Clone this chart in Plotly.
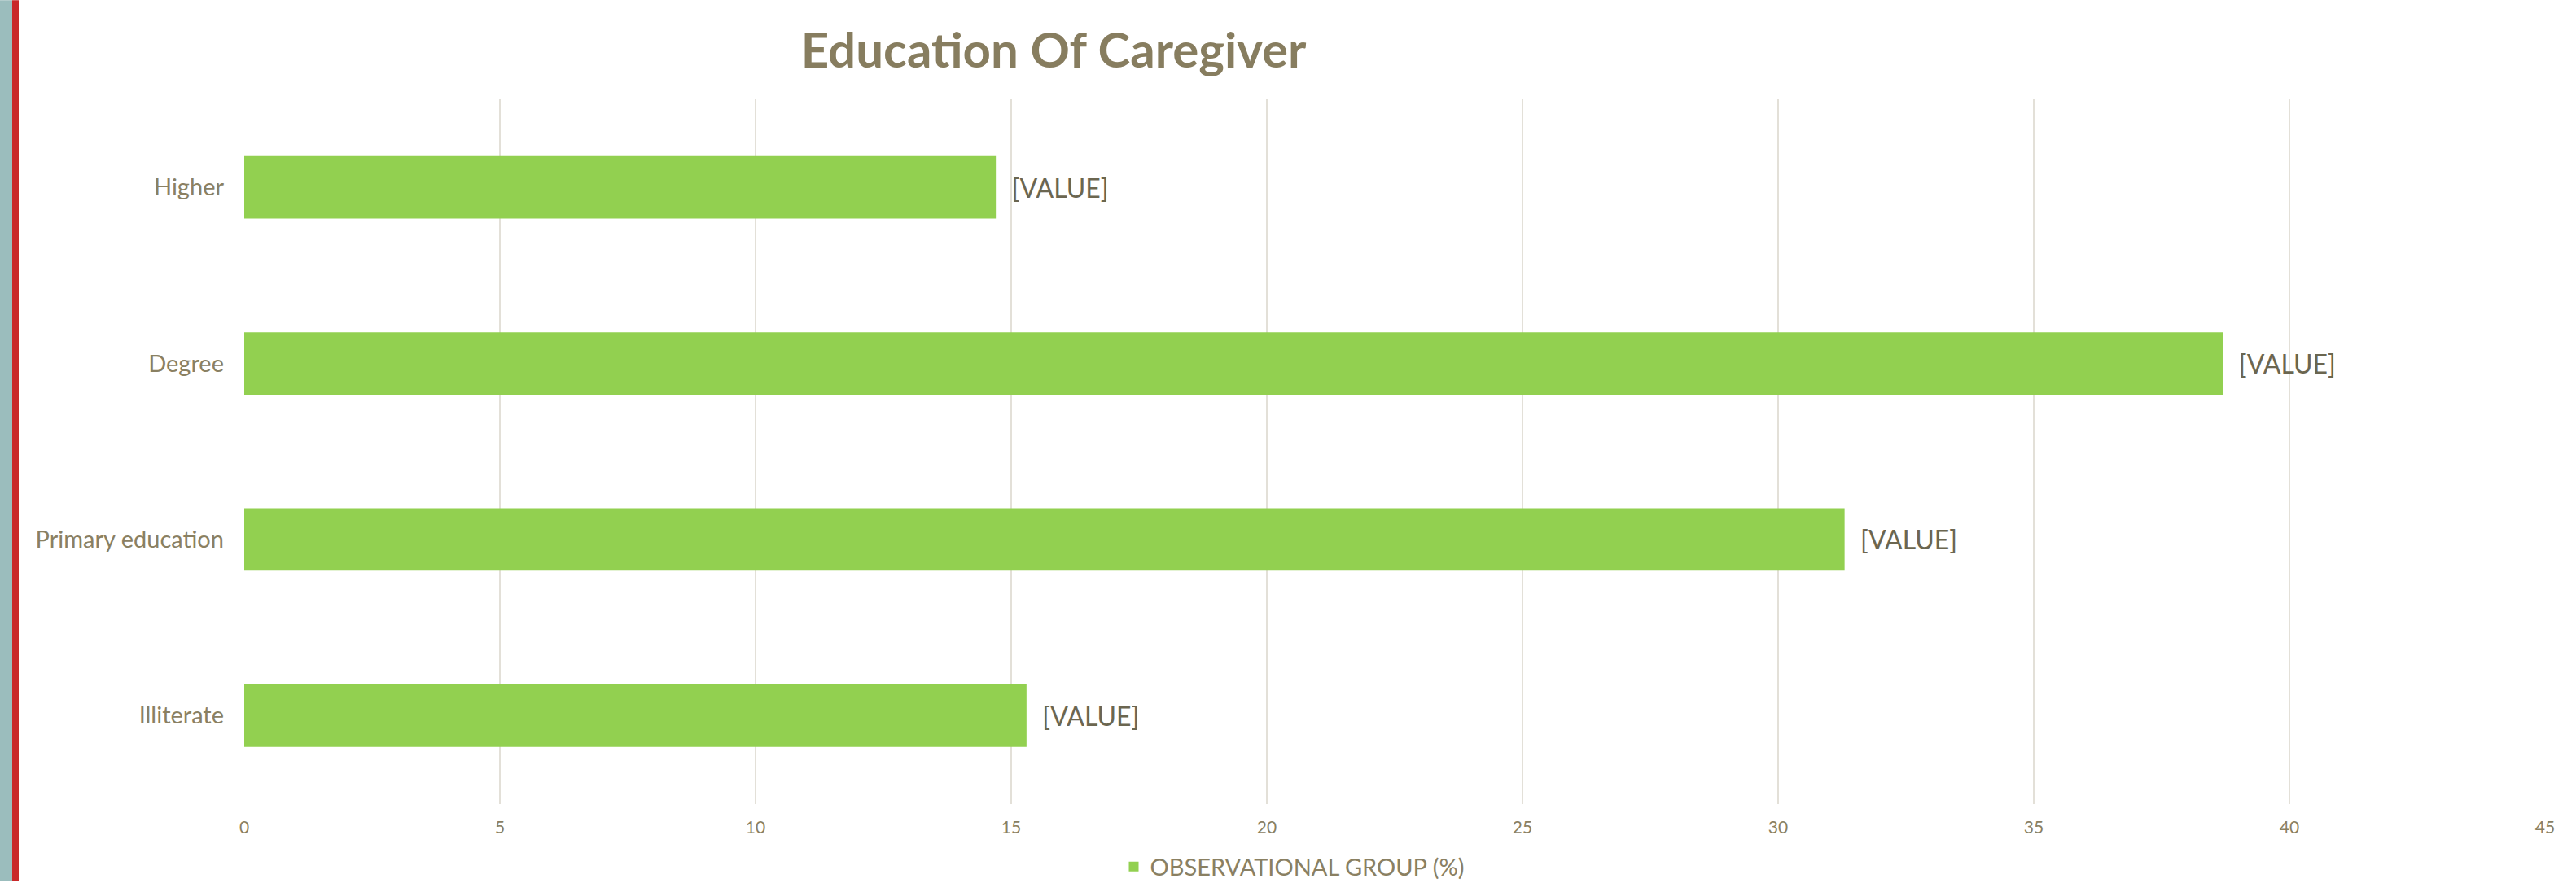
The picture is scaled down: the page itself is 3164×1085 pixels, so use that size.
import plotly.graph_objects as go

# Datos
categories = ["Illiterate", "Primary education", "Degree", "Higher"]
values = [15.3, 31.3, 38.7, 14.7]
labels = ["\u00a0\u00a0[VALUE]"] * len(categories)
series_name = "OBSERVATIONAL GROUP (%)"
x_ticks = [0, 5, 10, 15, 20, 25, 30, 35, 40, 45]

_FONT = "Futura, 'Century Gothic', Lato, sans-serif"
_TEXT = "#8a8062"
_GREEN = "#92d050"

W, H = 3164, 1085
L, R, T, B = 300, 38, 122, 95

fig = go.Figure()
fig.add_trace(go.Bar(
    y=categories,
    x=values,
    orientation="h",
    name=series_name,
    marker=dict(color=_GREEN, line=dict(width=0)),
    text=labels,
    textposition="outside",
    textfont=dict(size=32, color="#6b6650", family=_FONT),
    cliponaxis=False,
))

# Franja decorativa a la izquierda (gris + rojo)
pw, ph = W - L - R, H - T - B
fig.add_shape(type="rect", xref="paper", yref="paper",
              x0=-L / pw, x1=-(L - 15) / pw,
              y0=-B / ph, y1=1 + T / ph,
              fillcolor="#9bbdbd", line=dict(width=0), layer="above")
fig.add_shape(type="rect", xref="paper", yref="paper",
              x0=-(L - 15) / pw, x1=-(L - 23) / pw,
              y0=-B / ph, y1=1 + T / ph,
              fillcolor="#c9282a", line=dict(width=0), layer="above")

fig.update_layout(
    width=W,
    height=H,
    title=dict(
        text="<b>Education Of Caregiver</b>",
        x=1294 / W, xref="container", xanchor="center",
        y=1 - 62 / H, yref="container", yanchor="middle",
        font=dict(size=60, color="#877d5f", family=_FONT),
    ),
    xaxis=dict(
        range=[0, 45],
        tickvals=x_ticks,
        showgrid=True,
        gridcolor="#e3e0d8",
        gridwidth=2,
        zeroline=False,
        showline=False,
        tickfont=dict(size=21, color=_TEXT, family=_FONT),
        ticks="",
        ticklabelstandoff=14,
    ),
    yaxis=dict(
        showgrid=False,
        zeroline=False,
        showline=False,
        ticks="",
        tickfont=dict(size=29, color=_TEXT, family=_FONT),
        ticklabelstandoff=24,
    ),
    bargap=0.645,
    showlegend=True,
    legend=dict(
        orientation="h",
        x=1588 / W, xref="container", xanchor="center",
        y=1 - 1065 / H, yref="container", yanchor="middle",
        font=dict(size=29, color=_TEXT, family=_FONT),
        itemwidth=30,
    ),
    plot_bgcolor="white",
    paper_bgcolor="white",
    margin=dict(l=L, r=R, t=T, b=B),
)

fig.write_html(
    "out.html",
    config={"displayModeBar": False},
    post_script="document.body.style.margin='0';",
)
